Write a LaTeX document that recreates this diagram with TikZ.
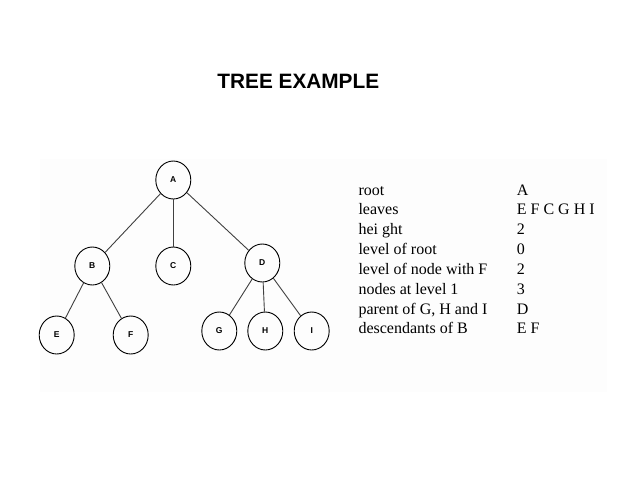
\documentclass[tikz,border=0pt]{standalone}
\usepackage{fontspec}
\setmainfont{Liberation Serif}
\newfontfamily\arialf{Liberation Sans}
\usetikzlibrary{shapes.geometric}
\tikzset{
  tnode/.style={ellipse, draw=black, line width=0.9pt, minimum width=35pt, minimum height=38pt, inner sep=0pt, font=\arialf\bfseries\fontsize{8.5}{10}\selectfont},
  tedge/.style={draw=black!75, line width=0.9pt},
  lbl/.style={anchor=base west, inner sep=0pt, font=\fontsize{16}{18}\selectfont, text=black},
}
\begin{document}
\begin{tikzpicture}[x=1pt,y=-1pt]
\path[use as bounding box, fill=white] (0,0) rectangle (638,493);
\fill[black!0.8] (40,159) rectangle (607,392);
\node[inner sep=0pt, font=\arialf\bfseries\fontsize{20.8}{24}\selectfont] (title) at (298.3,81.2) {TREE EXAMPLE};
% tree
\node[tnode] (A) at (173.3,180) {A};
\node[tnode] (B) at (92.3,266) {B};
\node[tnode] (C) at (173.3,266) {C};
\node[tnode] (D) at (262.3,263) {D};
\node[tnode] (E) at (56.7,335) {E};
\node[tnode] (F) at (130.7,335) {F};
\node[tnode] (G) at (219.3,331) {G};
\node[tnode] (H) at (265.3,331) {H};
\node[tnode] (I) at (311.7,331) {I};
\draw[tedge] (A) -- (B);
\draw[tedge] (A) -- (C);
\draw[tedge] (A) -- (D);
\draw[tedge] (B) -- (E);
\draw[tedge] (B) -- (F);
\draw[tedge] (D) -- (G);
\draw[tedge] (D) -- (H);
\draw[tedge] (D) -- (I);
% table
\node[lbl] (l1) at (358.3,195) {root};
\node[lbl] (l2) at (358.3,214.85) {leaves};
\node[lbl] (l3) at (358.3,234.7) {hei ght};
\node[lbl] (l4) at (358.3,254.55) {level of root};
\node[lbl] (l5) at (358.3,274.4) {level of node with F};
\node[lbl] (l6) at (358.3,294.25) {nodes at level 1};
\node[lbl] (l7) at (358.3,314.1) {parent of G, H and I};
\node[lbl] (l8) at (358.3,333.95) {descendants of B};
\node[lbl] (r1) at (516.7,195) {A};
\node[lbl] (r2) at (516.7,214.85) {E F C G H I};
\node[lbl] (r3) at (516.7,234.7) {2};
\node[lbl] (r4) at (516.7,254.55) {0};
\node[lbl] (r5) at (516.7,274.4) {2};
\node[lbl] (r6) at (516.7,294.25) {3};
\node[lbl] (r7) at (516.7,314.1) {D};
\node[lbl] (r8) at (516.7,333.95) {E F};
\end{tikzpicture}
\end{document}
